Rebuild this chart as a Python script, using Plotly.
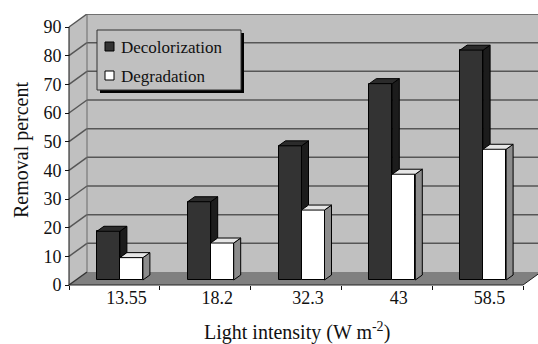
import plotly.graph_objects as go

# ---------------- data ----------------
categories = ["13.55", "18.2", "32.3", "43", "58.5"]
decolorization = [17.0, 27.3, 46.8, 68.5, 80.2]
degradation = [7.8, 12.9, 24.4, 36.9, 45.6]
y_ticks = [0, 10, 20, 30, 40, 50, 60, 70, 80, 90]
series_names = ["Decolorization", "Degradation"]

# ---------------- geometry (pixels) ----------------
W_PX, H_PX = 538, 344
L, R, T, B = 65, 538, 14, 287
X0_PX, Y0_PX = 69, 285
CAT_PX, UNIT_PX = 90.8, 2.8667
FONT = "Liberation Serif, Times New Roman, Times, serif"


def dx(px):
    return px / CAT_PX


def dy(px):
    return px / UNIT_PX


def pxx(px):
    return (px - L) / (R - L)


def pxy(py):
    return (B - py) / (B - T)


x_range = [-0.5 - dx(X0_PX - L), -0.5 + dx(R - X0_PX)]
y_range = [-dy(B - Y0_PX), dy(Y0_PX - T)]
DX, DY = dx(18), dy(13)
SHIFT_X, BASE = dx(5.5), dy(5)
SX, SY = dx(7), dy(5)
BW = dx(23)
n = len(categories)
x_first, x_last = -0.5, n - 0.5
y_top = y_ticks[-1]

WALL = "#c0c0c0"
FLOOR = "#808080"
GRID = "#565656"

shapes = []
# left wall
shapes.append(dict(type="path", xref="x", yref="y", layer="below",
                   path=f"M{x_first},0 L{x_first},{y_top} L{x_first+DX},{y_top+DY} L{x_first+DX},{DY} Z",
                   fillcolor=WALL, line=dict(width=0)))
# back wall
shapes.append(dict(type="rect", xref="x", yref="y", layer="below",
                   x0=x_first + DX, x1=x_last + DX, y0=DY, y1=y_top + DY,
                   fillcolor=WALL, line=dict(width=0)))
# floor
shapes.append(dict(type="path", xref="x", yref="y", layer="below",
                   path=f"M{x_first},0 L{x_last},0 L{x_last+DX},{DY} L{x_first+DX},{DY} Z",
                   fillcolor=FLOOR, line=dict(width=0)))
# gridlines
for t in y_ticks:
    if t > 0:
        shapes.append(dict(type="line", xref="x", yref="y", layer="below",
                           x0=x_first + DX, x1=x_range[1] + 1, y0=t + DY, y1=t + DY,
                           line=dict(color=GRID, width=1.5)))
    shapes.append(dict(type="line", xref="x", yref="y", layer="below",
                       x0=x_first, x1=x_first + DX, y0=t, y1=t + DY,
                       line=dict(color=GRID if t > 0 else "#333", width=1.5)))
# back wall left edge
shapes.append(dict(type="line", xref="x", yref="y", layer="below",
                   x0=x_first + DX, x1=x_first + DX, y0=DY, y1=y_top + DY,
                   line=dict(color="#6a6a6a", width=1)))
# y axis line
shapes.append(dict(type="line", xref="x", yref="y", layer="below",
                   x0=x_first, x1=x_first, y0=0, y1=y_top,
                   line=dict(color="#111", width=1)))
# floor front and right edges
shapes.append(dict(type="line", xref="x", yref="y", layer="below",
                   x0=x_first, x1=x_last, y0=0, y1=0, line=dict(color="#222", width=1)))
shapes.append(dict(type="line", xref="x", yref="y", layer="below",
                   x0=x_last, x1=x_last + DX, y0=0, y1=DY, line=dict(color="#222", width=1)))

# legend box (custom)
shapes.append(dict(type="rect", xref="paper", yref="paper", layer="above",
                   x0=pxx(100), x1=pxx(244), y0=pxy(93), y1=pxy(33),
                   fillcolor="#000", line=dict(width=0)))
shapes.append(dict(type="rect", xref="paper", yref="paper", layer="above",
                   x0=pxx(97), x1=pxx(241), y0=pxy(90), y1=pxy(30),
                   fillcolor=WALL, line=dict(color="#333", width=1)))
shapes.append(dict(type="rect", xref="paper", yref="paper", layer="above",
                   x0=pxx(105), x1=pxx(114), y0=pxy(51), y1=pxy(42),
                   fillcolor="#333", line=dict(color="#000", width=1)))
shapes.append(dict(type="rect", xref="paper", yref="paper", layer="above",
                   x0=pxx(105), x1=pxx(114), y0=pxy(80), y1=pxy(71),
                   fillcolor="#fff", line=dict(color="#000", width=1)))

fig = go.Figure()

xs = [i + SHIFT_X for i in range(n)]
fig.add_trace(go.Bar(x=xs, y=decolorization, base=BASE, width=BW, offset=-BW,
                     marker=dict(color="#333333", line=dict(color="#000", width=1)),
                     name=series_names[0], showlegend=False, hoverinfo="skip"))
fig.add_trace(go.Bar(x=xs, y=degradation, base=BASE, width=BW, offset=0,
                     marker=dict(color="#ffffff", line=dict(color="#000", width=1)),
                     name=series_names[1], showlegend=False, hoverinfo="skip"))


def poly_trace(polys, color):
    px_, py_ = [], []
    for p in polys:
        for (a, b) in p + [p[0]]:
            px_.append(a)
            py_.append(b)
        px_.append(None)
        py_.append(None)
    return go.Scatter(x=px_, y=py_, mode="lines", fill="toself", fillcolor=color,
                      line=dict(color="#000", width=1), showlegend=False, hoverinfo="skip")


dark_top, dark_side, white_top, white_side = [], [], [], []
for i in range(n):
    v, w = decolorization[i], degradation[i]
    xm = xs[i]
    xl = xm - BW
    xw = xm + BW
    dark_top.append([(xl, BASE + v), (xm, BASE + v), (xm + SX, BASE + v + SY), (xl + SX, BASE + v + SY)])
    dark_side.append([(xm, BASE + w), (xm, BASE + v), (xm + SX, BASE + v + SY), (xm + SX, BASE + w + SY)])
    white_top.append([(xm, BASE + w), (xw, BASE + w), (xw + SX, BASE + w + SY), (xm + SX, BASE + w + SY)])
    white_side.append([(xw, BASE), (xw + SX, BASE + SY), (xw + SX, BASE + w + SY), (xw, BASE + w)])

fig.add_trace(poly_trace(dark_side, "#1c1c1c"))
fig.add_trace(poly_trace(dark_top, "#2b2b2b"))
fig.add_trace(poly_trace(white_side, "#8c8c8c"))
fig.add_trace(poly_trace(white_top, "#e6e6e6"))

annotations = [
    dict(text=series_names[0], xref="paper", yref="paper", x=pxx(119), y=pxy(47),
         xanchor="left", yanchor="middle", showarrow=False,
         font=dict(family=FONT, size=17, color="#111")),
    dict(text=series_names[1], xref="paper", yref="paper", x=pxx(119), y=pxy(76),
         xanchor="left", yanchor="middle", showarrow=False,
         font=dict(family=FONT, size=17, color="#111")),
    dict(text="Removal percent", xref="paper", yref="paper", x=pxx(21), y=pxy(150),
         xanchor="center", yanchor="middle", textangle=-90, showarrow=False,
         font=dict(family=FONT, size=20, color="#111")),
    dict(text="Light intensity (W m<sup>-2</sup>)", xref="paper", yref="paper",
         x=pxx(297), y=pxy(331), xanchor="center", yanchor="middle", showarrow=False,
         font=dict(family=FONT, size=20, color="#111")),
]

fig.update_layout(
    width=W_PX, height=H_PX,
    margin=dict(l=L, r=W_PX - R, t=T, b=H_PX - B, pad=0),
    paper_bgcolor="white", plot_bgcolor="white",
    barmode="overlay", bargap=0,
    font=dict(family=FONT),
    shapes=shapes, annotations=annotations,
    showlegend=False,
    xaxis=dict(range=x_range, showgrid=False, zeroline=False, showline=False,
               tickmode="array", tickvals=[i + dx(12) for i in range(n)], ticktext=categories,
               ticks="", tickfont=dict(family=FONT, size=18, color="#111"),
               minor=dict(tickmode="array", tickvals=[i - 0.5 for i in range(n + 1)],
                          ticks="outside", ticklen=4, tickcolor="#111", tickwidth=1, showgrid=False),
               anchor="free", position=pxy(Y0_PX), fixedrange=True),
    yaxis=dict(range=y_range, showgrid=False, zeroline=False, showline=False,
               tickmode="array", tickvals=y_ticks, ticks="outside", ticklen=4,
               tickcolor="#111", tickwidth=1,
               tickfont=dict(family=FONT, size=18, color="#111"),
               anchor="free", position=pxx(X0_PX), fixedrange=True),
)

fig.write_html("out.html")
